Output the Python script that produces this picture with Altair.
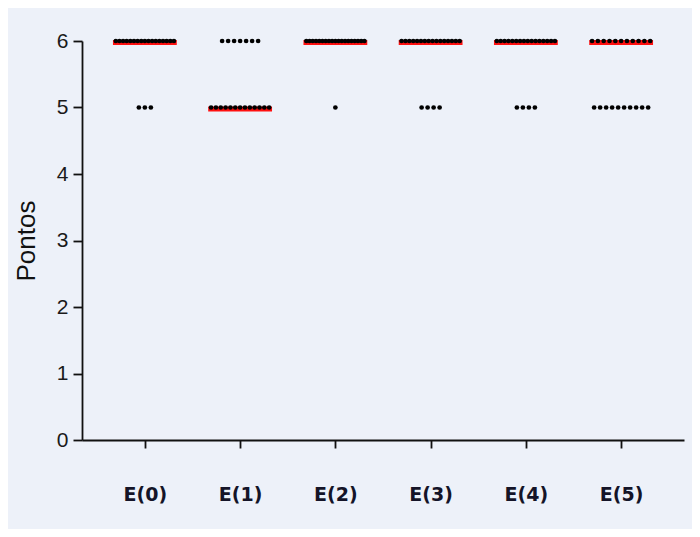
import json
import altair as alt
import pandas as pd

# ---- data ----
groups = ["E(0)", "E(1)", "E(2)", "E(3)", "E(4)", "E(5)"]
count_score6 = [17, 7, 19, 16, 16, 11]   # number of subjects scoring 6
count_score5 = [3, 13, 1, 4, 4, 10]      # number of subjects scoring 5
y_ticks = [0, 1, 2, 3, 4, 5, 6]

rows = []
for i, g in enumerate(groups):
    for score, n in ((6, count_score6[i]), (5, count_score5[i])):
        for _ in range(n):
            rows.append({"grupo": g, "idx": i, "pontos": score})
df = pd.DataFrame(rows)

label_expr = json.dumps(groups) + "[datum.value]"

x_scale = alt.Scale(domain=[-0.66, 5.66], nice=False, zero=False)
y_scale = alt.Scale(domain=[0, 6], nice=False, zero=True)

x_axis = alt.Axis(
    values=list(range(len(groups))), labelExpr=label_expr, title=None,
    grid=False, domainColor="#111111", domainWidth=1.8, tickColor="#111111",
    tickWidth=1.8, tickSize=8, labelFont="DejaVu Sans", labelFontWeight="bold",
    labelFontSize=19, labelColor="#141428", labelPadding=37,
)
y_axis = alt.Axis(
    values=y_ticks, title="Pontos", grid=False, domainColor="#111111",
    domainWidth=1.8, tickColor="#111111", tickWidth=1.8, tickSize=9,
    labelFont="Liberation Sans", labelFontSize=21, labelColor="#1a1a1a",
    labelPadding=5, titleFont="Liberation Sans", titleFontSize=26,
    titleFontWeight="normal", titleColor="#111111", titlePadding=17,
)

base = alt.Chart(df)

medians = base.transform_aggregate(
    med="median(pontos)", groupby=["idx"]
).transform_calculate(
    x1="datum.idx - 0.335", x2="datum.idx + 0.335"
).mark_rule(color="#FF1010", strokeWidth=5, yOffset=1.5).encode(
    x=alt.X("x1:Q", scale=x_scale, axis=x_axis),
    x2="x2:Q",
    y=alt.Y("med:Q", scale=y_scale, axis=y_axis),
)

dots = base.transform_window(
    rank="row_number()", groupby=["idx", "pontos"]
).transform_joinaggregate(
    n="count()", groupby=["idx", "pontos"]
).transform_calculate(
    xpos="datum.idx + (datum.rank - (datum.n + 1) / 2) * min(0.063, 0.61 / max(datum.n - 1, 1))"
).mark_circle(size=22, color="black", opacity=1).encode(
    x=alt.X("xpos:Q", scale=x_scale, axis=x_axis),
    y=alt.Y("pontos:Q", scale=y_scale, axis=y_axis),
)

chart = alt.layer(medians, dots).properties(
    width=602, height=399,
    padding={"left": 74, "top": 33, "right": 8, "bottom": 89},
    autosize=alt.AutoSizeParams(type="none"),
    background="#EDF1F9",
).configure_view(stroke=None)

chart.save("out.html", embed_options={"renderer": "svg", "actions": False})
